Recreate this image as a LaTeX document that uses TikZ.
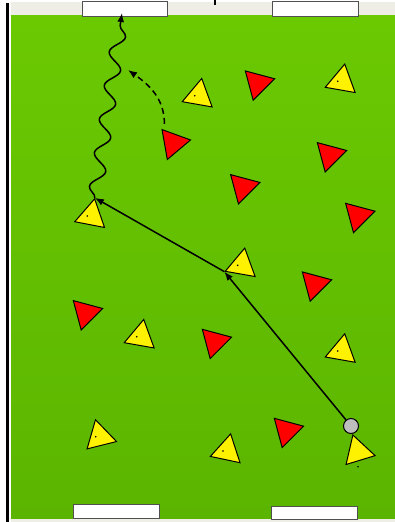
\documentclass[tikz,border=0pt]{standalone}
\usetikzlibrary{arrows.meta,shapes.geometric,decorations.pathmorphing}

\definecolor{pitchtop}{HTML}{6BC902}
\definecolor{pitchbot}{HTML}{5BB500}
\definecolor{sideline}{HTML}{EEEEE6}
\definecolor{goalline}{HTML}{505050}
\definecolor{ballgray}{HTML}{BEBEBE}

\begin{document}
\begin{tikzpicture}[x=1pt, y=-1pt,
  cone/.style={draw, regular polygon, regular polygon sides=3, minimum size=35pt,
               inner sep=0pt, line width=1pt},
  attacker/.style={cone, fill=yellow, shape border rotate=-10},
  defender/.style={cone, fill=red, shape border rotate=165},
  goal/.style={draw=goalline, fill=white, line width=1pt, minimum width=86pt,
               minimum height=15pt, inner sep=0pt},
  ball/.style={circle, draw, fill=ballgray, minimum size=15pt, inner sep=0pt, line width=1pt},
  arrow/.style={-{Latex[length=9pt,width=7pt]}, line width=1.5pt},
  dribble/.style={arrow, decorate, decoration={snake, amplitude=7pt,
                  segment length=34pt, post length=8pt}},
  run/.style={arrow, dash pattern=on 6pt off 4pt}
]
\useasboundingbox (0,0) rectangle (395,522);

% pitch
\fill[sideline] (11,2) rectangle (395,15);
\fill[sideline] (11,518) rectangle (395,522);
\shade[top color=pitchtop, bottom color=pitchbot] (11,15) rectangle (395,518);
\fill[black] (6,3) rectangle (8.5,522);
\draw[line width=1.5pt] (215,0) -- (215,5);

% goals
\node[goal, minimum width=85pt] (goalTL) at (124.5,8.5) {};
\node[goal] (goalTR) at (315,8.5) {};
\node[goal, minimum height=14pt] (goalBL) at (116,511) {};
\node[goal, minimum height=13pt] (goalBR) at (314,512.5) {};

% attackers
\node[attacker] (Y1) at (198.7,95.7) {};
\node[attacker] (Y2) at (341.7,81.3) {};
\node[attacker, shape border rotate=-11] (Y3) at (91.3,216) {};
\node[attacker] (Y4) at (241.7,265.3) {};
\node[attacker] (Y5) at (140.7,336.7) {};
\node[attacker] (Y6) at (341.7,351) {};
\node[attacker, shape border rotate=14] (Y7) at (99.7,436.7) {};
\node[attacker, shape border rotate=-12] (Y8) at (227,451) {};
\node[attacker, shape border rotate=17] (Y9) at (358,451.7) {};
\foreach \n in {Y1,Y2,Y3,Y4,Y5,Y6,Y7,Y8}
  \fill ([xshift=-4pt]\n.center) circle (0.9pt);
\fill ([yshift=-15pt]Y9.center) circle (0.9pt);

% defenders
\node[defender] (R1) at (257.7,83.3) {};
\node[defender, shape border rotate=160] (R2) at (173.3,143) {};
\node[defender] (R3) at (329.7,155) {};
\node[defender] (R4) at (243,187) {};
\node[defender] (R5) at (358,215.7) {};
\node[defender] (R6) at (314.7,284.3) {};
\node[defender] (R7) at (85.7,313) {};
\node[defender] (R8) at (214.7,341.7) {};
\node[defender] (R9) at (286.7,430.7) {};

\node[ball] (ball) at (351,426) {};

% moves
\coordinate (shot) at (122,13);
\coordinate (runend) at (128,70);
\draw[arrow] (ball) -- (Y4.corner 2);
\draw[arrow] (Y4.corner 2) -- (Y3.corner 1);
\draw[dribble] (Y3.corner 1) -- (shot);
\draw[run] ([shift={(3,-5)}]R2.corner 3) to[out=90, in=-35] (runend);
\end{tikzpicture}
\end{document}
